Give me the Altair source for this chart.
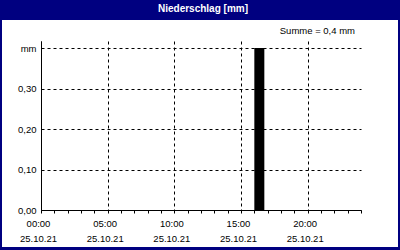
import altair as alt
import pandas as pd

# ---- data ----
bar_start_h = [16.0]          # hour of day, 25.10.21
bar_end_h = [16.75]
precip_mm = [0.4]
x_tick_labels = ["00:00", "05:00", "10:00", "15:00", "20:00"]
date_label = "25.10.21"
y_tick_values = [0.0, 0.1, 0.2, 0.3, 0.4]
y_tick_labels = ["0,00", "0,10", "0,20", "0,30", "mm"]
title_text = "Niederschlag [mm]"
sum_text = "Summe = 0,4 mm"

df = pd.DataFrame({"start": bar_start_h, "end": bar_end_h, "value": precip_mm})

W, H = 320, 169
FONT = "Liberation Sans"
NAVY = "#000080"

xlab_js = "[" + ",".join("'%s'" % s for s in x_tick_labels) + "]"
ylab_js = "[" + ",".join("'%s'" % s for s in y_tick_labels) + "]"

x_axis = alt.Axis(
    values=list(range(0, 25)),
    tickSize=3, tickColor="black", domainColor="black",
    labelExpr=f"(datum.value % 5 == 0 && datum.value < 24) ? [{xlab_js}[datum.value / 5], '{date_label}'] : ''",
    labelLineHeight=15, labelFontSize=9.5, labelFont=FONT, labelColor="black",
    labelPadding=5, labelOffset=-3, labelFlush=False, labelOverlap=False, labelBound=False,
    grid=True, gridDash=[3, 3], gridColor="black",
    gridOpacity=alt.condition("datum.value % 5 == 0", alt.value(1), alt.value(0)),
    title=None, zindex=1,
)
y_axis = alt.Axis(
    values=y_tick_values, ticks=False, domainColor="black",
    labelExpr=f"{ylab_js}[round(datum.value * 10)]",
    labelFontSize=9.5, labelFont=FONT, labelColor="black", labelPadding=5,
    labelFlush=False, labelOverlap=False,
    grid=True, gridDash=[3, 3], gridColor="black", gridOpacity=1,
    title=None, zindex=1,
)

base = alt.Chart(df)

panel = base.mark_rect(color="white").encode(
    x=alt.value(-39), x2=alt.value(357), y=alt.value(-21), y2=alt.value(206)
)

bars = base.mark_rect(color="black").encode(
    x=alt.X("start:Q", scale=alt.Scale(domain=[0, 24], nice=False), axis=x_axis),
    x2="end:Q",
    y=alt.Y("value:Q", scale=alt.Scale(domain=[0, 0.4173], nice=False), axis=y_axis),
    y2=alt.datum(0),
)

title = base.mark_text(font=FONT, fontSize=10, fontWeight="bold", color="white",
                       align="center", baseline="middle").encode(
    x=alt.value(162), y=alt.value(-32), text=alt.value(title_text)
)
summe = base.mark_text(font=FONT, fontSize=9.5, color="black",
                       align="right", baseline="middle").encode(
    x=alt.value(314), y=alt.value(-10), text=alt.value(sum_text)
)

chart = alt.layer(panel, bars, title, summe).properties(
    width=W, height=H,
    background=NAVY,
    padding={"left": 41, "top": 41, "right": 39, "bottom": 40},
    autosize=alt.AutoSizeParams(type="none"),
).configure_view(stroke="black", strokeWidth=1)

chart.save("out.html", embed_options={"renderer": "svg", "actions": False})
